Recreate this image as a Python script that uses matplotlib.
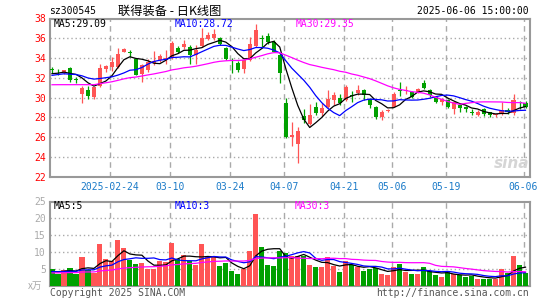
import numpy as np
import pandas as pd
import matplotlib
matplotlib.use('Agg')
import matplotlib.pyplot as plt

plt.rcParams['font.family'] = ['DejaVu Sans Mono', 'Noto Sans CJK SC']

# trading days 2025-02-10 .. 2025-06-06 (holidays removed)
holidays = ['2025-04-04', '2025-05-01', '2025-05-02', '2025-05-05', '2025-06-02']
dates = [d for d in pd.bdate_range('2025-02-10', '2025-06-06') if d.strftime('%Y-%m-%d') not in holidays]

open_ = [32.85, 32.7, 32.5, 33.0, 31.85, 30.4, 30.75, 30.05, 31.15, 32.9,
         33.1, 33.05, 34.65, 34.65, 33.95, 32.4, 32.75, 33.5, 33.8, 33.95,
         34.1, 35.05, 35.15, 35.15, 34.35, 35.2, 35.9, 36.0, 36.0, 35.05,
         33.8, 33.5, 32.9, 33.85, 35.2, 36.05, 36.2, 35.6, 34.35, 29.5,
         26.0, 25.35, 28.1, 27.33, 29.05, 28.45, 29.0, 29.8, 30.0, 29.8,
         30.25, 30.45, 30.75, 29.85, 29.05, 28.05, 28.6, 29.05, 30.75, 30.65,
         30.55, 30.5, 31.45, 30.75, 30.05, 29.55, 29.8, 28.8, 29.25, 29.05,
         28.5, 28.25, 28.8, 28.5, 28.22, 28.4, 28.7, 28.4, 29.55, 29.5]
high = [33.05, 32.85, 32.8, 33.05, 32.05, 31.2, 31.15, 31.1, 33.4, 33.25,
        34.1, 35.0, 35.05, 34.8, 34.0, 33.4, 33.9, 34.7, 34.4, 34.8,
        35.75, 35.2, 35.8, 35.3, 35.3, 37.0, 36.6, 36.9, 36.1, 35.1,
        34.0, 33.7, 33.9, 36.1, 37.4, 36.35, 36.5, 35.85, 34.5, 30.0,
        27.55, 27.05, 28.8, 29.4, 29.55, 29.45, 30.75, 30.55, 30.4, 31.25,
        30.7, 31.3, 30.9, 29.95, 29.1, 28.75, 28.85, 30.55, 31.55, 31.2,
        30.65, 30.95, 31.8, 30.85, 30.1, 30.0, 29.85, 29.6, 29.35, 29.1,
        28.8, 28.7, 28.9, 28.55, 28.35, 29.55, 28.95, 30.4, 29.65, 29.65]
low = [32.5, 32.3, 32.35, 31.6, 31.5, 29.5, 29.85, 29.85, 31.1, 32.55,
       32.7, 32.95, 34.6, 34.1, 32.25, 31.6, 32.6, 33.3, 33.6, 33.4,
       33.9, 34.5, 34.9, 33.35, 33.4, 35.1, 35.8, 35.85, 35.3, 33.8,
       32.5, 32.6, 32.5, 33.7, 35.1, 35.0, 35.4, 34.6, 31.5, 25.9,
       25.15, 23.35, 27.4, 27.2, 28.25, 28.1, 28.9, 29.3, 29.25, 29.7,
       29.6, 30.3, 29.8, 28.95, 27.8, 27.75, 28.5, 29.0, 30.2, 30.4,
       29.95, 30.45, 30.9, 30.1, 29.45, 29.3, 28.95, 28.35, 28.55, 28.5,
       28.25, 28.15, 28.15, 28.0, 28.05, 28.25, 28.3, 28.25, 28.85, 28.95]
close = [32.8, 32.65, 32.75, 31.75, 31.8, 31.0, 30.2, 31.05, 33.0, 33.15,
         33.65, 34.4, 34.95, 34.5, 32.3, 33.25, 33.6, 33.75, 34.25, 34.05,
         35.5, 34.65, 35.45, 34.35, 34.8, 36.0, 36.3, 36.45, 35.4, 33.9,
         33.75, 32.75, 33.85, 35.4, 36.85, 35.95, 35.6, 34.65, 32.5, 26.0,
         26.25, 26.65, 27.75, 28.23, 28.4, 28.9, 29.9, 30.25, 29.45, 31.05,
         30.2, 30.8, 30.25, 29.25, 28.05, 28.55, 28.7, 30.35, 30.7, 30.75,
         30.05, 30.9, 31.0, 30.25, 29.6, 29.9, 29.05, 29.55, 28.9, 28.8,
         28.45, 28.55, 28.3, 28.2, 28.25, 28.7, 28.5, 29.75, 29.5, 29.0]
# volume, x10^4
volume = [4.9, 3.6, 4.6, 5.2, 3.5, 8.4, 4.8, 3.8, 12.3, 7.8,
          7.2, 13.5, 11.1, 7.5, 6.4, 6.8, 4.9, 4.9, 7.3, 7.0,
          12.8, 7.8, 9.0, 7.3, 6.1, 12.5, 8.5, 8.5, 5.8, 6.7,
          4.3, 3.4, 5.0, 10.2, 21.4, 11.4, 6.1, 5.8, 10.2, 9.8,
          8.8, 8.8, 8.8, 6.1, 5.5, 5.5, 8.4, 5.8, 4.0, 7.2,
          6.1, 5.7, 4.4, 4.9, 5.4, 3.4, 3.1, 5.5, 6.5, 4.1,
          3.5, 3.5, 5.5, 4.3, 3.1, 2.5, 4.0, 3.4, 3.2, 2.6,
          2.9, 2.1, 2.1, 2.1, 2.1, 4.9, 3.9, 8.8, 6.1, 3.8]
# 29 sessions before the window, only needed for the moving averages
prior_close = [32.5, 32.7, 31.8, 31.7, 31.0, 30.3, 31.0, 30.0, 30.3, 30.6,
               30.2, 30.4, 30.8, 30.5, 30.1, 30.3, 30.7, 30.6, 30.4, 30.6,
               31.8, 32.0, 32.2, 32.1, 32.3, 32.4, 32.2, 32.4, 32.3]
prior_vol = [3.2, 3.8, 3.5, 4.1, 3.3, 3.6, 3.9, 3.4, 3.1, 3.7,
             4.0, 3.5, 3.3, 3.8, 3.6, 3.2, 3.9, 3.7, 3.4, 4.0,
             4.3, 3.9, 4.2, 4.0, 4.4, 4.1, 3.8, 4.3, 4.1]
tick_dates = ['2025-02-24', '2025-03-10', '2025-03-24', '2025-04-07',
              '2025-04-21', '2025-05-06', '2025-05-19', '2025-06-06']
tick_labels = ['2025-02-24', '03-10', '03-24', '04-07', '04-21', '05-06', '05-19', '06-06']
price_ma_text = ['MA5:29.09', 'MA10:28.72', 'MA30:29.35']
vol_ma_text = ['MA5:5', 'MA10:3', 'MA30:3']

RED = '#ff5555'
GREEN = '#00a000'
GRID = '#aaaaaa'
MA_COLORS = ['black', '#0000ff', '#ff00ff']

o = np.array(open_); h = np.array(high); l = np.array(low); c = np.array(close)
v = np.array(volume)
x = np.arange(len(c))
day_str = [d.strftime('%Y-%m-%d') for d in dates]
grid_x = [day_str.index(d) - 1/3 for d in tick_dates]


def ma(prior, vals, n):
    s = pd.Series(list(prior) + list(vals)).rolling(n).mean().to_numpy()
    return s[len(prior):]


fig = plt.figure(figsize=(5.45, 3.0), dpi=100)
ax = fig.add_axes([50/545, 1 - 176.7/300, 479.5/545, 158.2/300])
axv = fig.add_axes([50/545, 1 - 285.7/300, 479.5/545, 84.2/300])

cols = np.where(c >= o, RED, GREEN)

# candles
ax.vlines(x, l, h, colors=cols, lw=0.9, zorder=3)
ax.bar(x, np.maximum(np.abs(c - o), 0.08), bottom=np.minimum(o, c), width=0.68,
       color=cols, linewidth=0, zorder=3)
for n, col in zip([5, 10, 30], MA_COLORS):
    ax.plot(x, ma(prior_close, c, n), color=col, lw=0.9, zorder=4)

# volume
axv.bar(x, v, width=0.85, color=cols, linewidth=0, zorder=3)
for n, col in zip([5, 10, 30], MA_COLORS):
    axv.plot(x, ma(prior_vol, v, n), color=col, lw=0.9, zorder=4)

for a in (ax, axv):
    a.set_xlim(-1/3, len(c) - 1/3)
    for gx in grid_x:
        a.axvline(gx, color=GRID, lw=1, ls=(0, (4, 3)), zorder=1)
    for sp in a.spines.values():
        sp.set_color('#999999')
        sp.set_linewidth(1.5)
    a.tick_params(length=0, labelsize=7, pad=3)

ax.set_ylim(22, 38)
ax.set_yticks(range(22, 39, 2))
ax.tick_params(axis='y', labelcolor='red')
for yv in range(24, 38, 2):
    ax.axhline(yv, color=GRID, lw=1, ls=(0, (1, 2)), zorder=1)
ax.set_xticks(grid_x)
ax.set_xticklabels(tick_labels, color='#1a7ac8')
ax.tick_params(axis='x', pad=4)

axv.set_ylim(0, 25)
axv.set_yticks([5, 10, 15, 20, 25])
axv.tick_params(axis='y', labelcolor='#aaaaaa')
for yv in [5, 10, 15, 20]:
    axv.axhline(yv, color=GRID, lw=1, ls=(0, (1, 2)), zorder=1)
axv.set_xticks([])


def ftext(px, py, s, **kw):
    fig.text(px / 545, 1 - py / 300, s, va='center', **kw)


ftext(49, 11, 'sz300545', fontsize=7, color='black')
ftext(118, 11, '联得装备 - 日K线图', fontsize=8.8, color='black',
      family=['Noto Sans CJK SC', 'DejaVu Sans'])
ftext(529, 11, '2025-06-06 15:00:00', fontsize=7, color='black', ha='right')

for px, s, col in zip([54, 175, 296], price_ma_text, MA_COLORS):
    ftext(px, 24, s, fontsize=7, color=col)
for px, s, col in zip([54, 175, 295], vol_ma_text, MA_COLORS):
    ftext(px, 206, s, fontsize=7, color=col)

ftext(35, 286, 'x万', fontsize=7, color='#aaaaaa', ha='center',
      family=['Noto Sans CJK SC', 'DejaVu Sans'])
ftext(50, 293, 'Copyright 2025 SINA.COM', fontsize=7, color='#555555')
ftext(529, 293, 'http://finance.sina.com.cn', fontsize=7, color='#555555', ha='right')
ftext(512, 163, 'sina', fontsize=11, color='#d5d5d5', ha='center',
      family='DejaVu Sans', weight='bold', style='italic')

fig.savefig('out.png', dpi=100)
